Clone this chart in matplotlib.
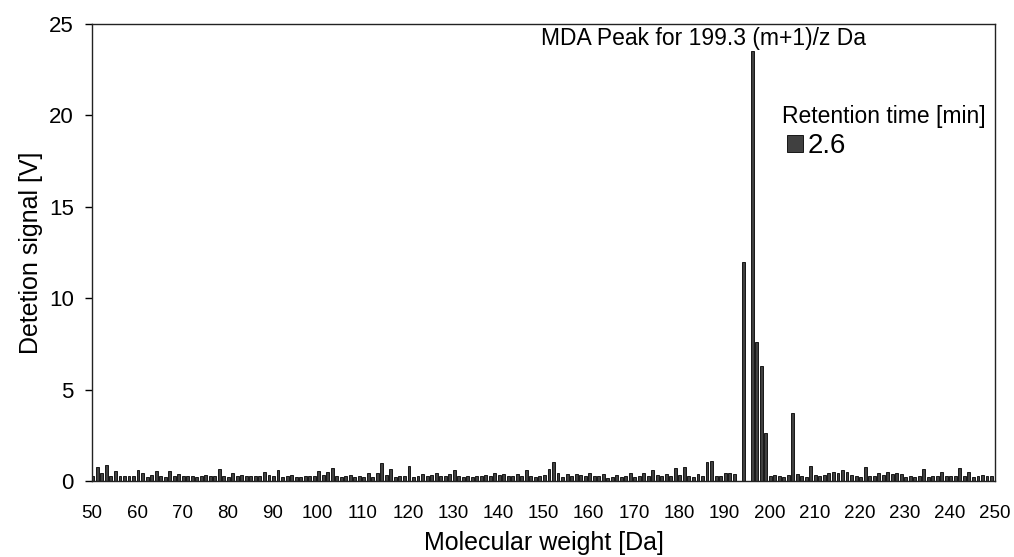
import numpy as np
import matplotlib
matplotlib.use("Agg")
import matplotlib.pyplot as plt

plt.rcParams['font.family'] = ['Liberation Sans', 'DejaVu Sans']

# Mass channels (Da) and detector signal (V) at retention time 2.6 min
mass = np.arange(50, 250) + 0.2
signal = [
    # 50-59
    0.30, 0.75, 0.45, 0.90, 0.25, 0.55, 0.30, 0.30, 0.30, 0.25,
    # 60-69
    0.60, 0.45, 0.20, 0.35, 0.55, 0.30, 0.20, 0.55, 0.30, 0.40,
    # 70-79
    0.25, 0.25, 0.25, 0.20, 0.30, 0.35, 0.25, 0.30, 0.65, 0.25,
    # 80-89
    0.20, 0.45, 0.30, 0.35, 0.30, 0.30, 0.25, 0.25, 0.50, 0.35,
    # 90-99
    0.25, 0.60, 0.20, 0.30, 0.35, 0.20, 0.20, 0.25, 0.30, 0.25,
    # 100-109
    0.55, 0.35, 0.50, 0.70, 0.30, 0.20, 0.30, 0.35, 0.20, 0.30,
    # 110-119
    0.20, 0.45, 0.20, 0.45, 1.00, 0.35, 0.65, 0.20, 0.30, 0.25,
    # 120-129
    0.80, 0.20, 0.30, 0.40, 0.25, 0.35, 0.45, 0.25, 0.30, 0.40,
    # 130-139
    0.60, 0.25, 0.20, 0.30, 0.20, 0.25, 0.30, 0.35, 0.30, 0.45,
    # 140-149
    0.35, 0.40, 0.30, 0.25, 0.40, 0.30, 0.60, 0.25, 0.20, 0.30,
    # 150-159
    0.35, 0.65, 1.05, 0.45, 0.20, 0.40, 0.25, 0.40, 0.35, 0.30,
    # 160-169
    0.45, 0.25, 0.25, 0.40, 0.15, 0.20, 0.35, 0.20, 0.25, 0.45,
    # 170-179
    0.20, 0.30, 0.45, 0.30, 0.60, 0.35, 0.30, 0.40, 0.30, 0.70,
    # 180-189
    0.35, 0.75, 0.30, 0.20, 0.40, 0.30, 1.05, 1.10, 0.25, 0.30,
    # 190-199
    0.45, 0.45, 0.40, 0.00, 12.0, 0.00, 23.5, 7.6, 6.3, 2.6,
    # 200-209
    0.30, 0.35, 0.30, 0.20, 0.35, 3.7, 0.40, 0.30, 0.20, 0.80,
    # 210-219
    0.35, 0.30, 0.35, 0.45, 0.50, 0.45, 0.60, 0.50, 0.35, 0.30,
    # 220-229
    0.20, 0.75, 0.30, 0.30, 0.45, 0.35, 0.50, 0.40, 0.45, 0.40,
    # 230-239
    0.20, 0.25, 0.20, 0.30, 0.65, 0.20, 0.30, 0.25, 0.50, 0.25,
    # 240-249
    0.30, 0.30, 0.70, 0.30, 0.50, 0.20, 0.30, 0.35, 0.25, 0.30,
]

xticks = list(range(50, 251, 10))
yticks = [0, 5, 10, 15, 20, 25]

fig = plt.figure(figsize=(10.14, 5.57), dpi=100)
ax = fig.add_axes([0.0907, 0.1364, 0.8907, 0.8205])

ax.bar(mass, signal, width=0.65, color='#404040', edgecolor='black',
       linewidth=0.6, label='2.6')

ax.set_xlim(50, 250)
ax.set_ylim(0, 25)
ax.set_xticks(xticks)
ax.set_yticks(yticks)
ax.tick_params(axis='x', labelsize=13.5, length=0, pad=17)
ax.tick_params(axis='y', labelsize=16, length=5, width=1, direction='out',
               pad=8)
for s in ax.spines.values():
    s.set_color('#222222')
    s.set_linewidth(1.0)

ax.set_xlabel('Molecular weight [Da]', fontsize=18, labelpad=7)
ax.set_ylabel('Detetion signal [V]', fontsize=18, labelpad=4)

ax.text(185.5, 24.2, 'MDA Peak for 199.3 (m+1)/z Da', fontsize=16.5,
        ha='center', va='center')

leg = ax.legend(title='Retention time [min]', loc='upper left',
                bbox_to_anchor=(0.764, 0.823), borderaxespad=0, borderpad=0,
                frameon=False, fontsize=20, title_fontsize=16.5,
                handlelength=0.58, handleheight=0.58, handletextpad=0.15,
                alignment='left')
leg._legend_box.sep = 0.5
leg._legend_handle_box.pad = 3.5

fig.savefig('out.png', dpi=100)
